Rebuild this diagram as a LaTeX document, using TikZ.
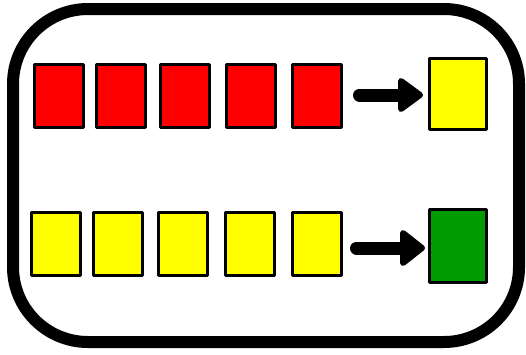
\documentclass[tikz,border=0pt]{standalone}
\definecolor{cardred}{RGB}{255,0,0}
\definecolor{cardyellow}{RGB}{255,255,0}
\definecolor{cardgreen}{RGB}{0,155,0}
\tikzset{
  card/.style={draw=black, line width=3pt, line join=round, inner sep=0pt,
    minimum width=49pt, minimum height=63pt},
  bigcard/.style={card, minimum width=57pt, minimum height=71pt},
  shaft/.style={line width=13pt, line cap=round},
  head/.style={fill=black, draw=black, line width=6pt, line join=round},
}
\begin{document}
\begin{tikzpicture}[x=1pt,y=-1pt]
  \useasboundingbox (0,0) rectangle (526,354);
  % frame
  \draw[line width=12pt, rounded corners=75pt] (13,9) rectangle (519,342);

  % top row: red cards
  \node[card, fill=cardred] (r1) at (58.5,96) {};
  \node[card, fill=cardred] (r2) at (121,96) {};
  \node[card, fill=cardred] (r3) at (185,96) {};
  \node[card, fill=cardred] (r4) at (250.5,96) {};
  \node[card, fill=cardred] (r5) at (316.5,96) {};
  \node[bigcard, fill=cardyellow] (t1) at (458,94) {};

  % bottom row: yellow cards
  \node[card, fill=cardyellow] (y1) at (55.5,244) {};
  \node[card, fill=cardyellow] (y2) at (118,244) {};
  \node[card, fill=cardyellow] (y3) at (183,244) {};
  \node[card, fill=cardyellow] (y4) at (249.5,244) {};
  \node[card, fill=cardyellow] (y5) at (317,244) {};
  \node[bigcard, fill=cardgreen, minimum height=73pt] (t2) at (458,246) {};

  % arrows
  \coordinate (a1s) at (359.5,95);
  \coordinate (a1e) at (404,95);
  \draw[shaft] (a1s) -- (a1e);
  \draw[head] (401,81) -- (420,95) -- (401,109) -- cycle;

  \coordinate (a2s) at (356.5,248);
  \coordinate (a2e) at (406,248);
  \draw[shaft] (a2s) -- (a2e);
  \draw[head] (403,233) -- (422,248) -- (403,263) -- cycle;
\end{tikzpicture}
\end{document}
